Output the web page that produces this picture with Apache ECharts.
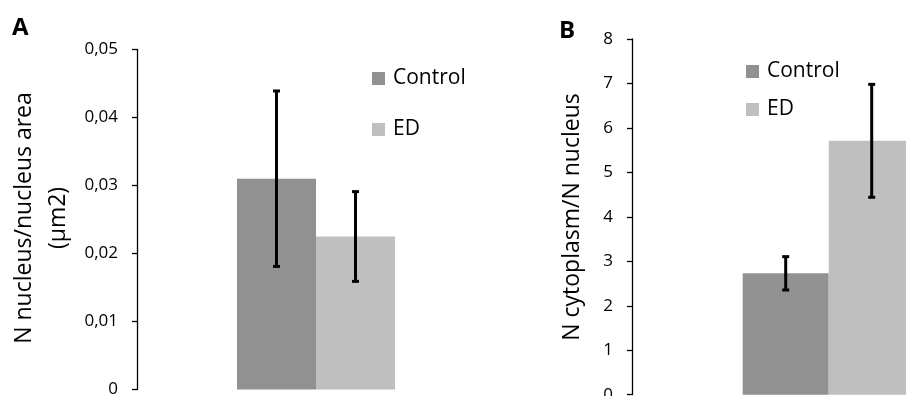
<!DOCTYPE html>
<html>
<head>
<meta charset="utf-8">
<script src="https://cdn.jsdelivr.net/npm/echarts@6/dist/echarts.min.js"></script>
<style>
html,body{margin:0;padding:0;background:#fff;overflow:hidden;width:906px;height:396px;}
#c{width:1030px;height:396px;}
</style>
</head>
<body>
<div id="c"></div>
<script>
// ---- data ----
const categories = [''];
const seriesNames = ['Control', 'ED'];
// Panel A: N nucleus / nucleus area (µm2)
const nucAreaControl = [0.031];
const nucAreaControlErr = [0.0129];
const nucAreaED = [0.0225];
const nucAreaEDErr = [0.0066];
// Panel B: N cytoplasm / N nucleus
const cytoNucControl = [2.73];
const cytoNucControlErr = [0.375];
const cytoNucED = [5.71];
const cytoNucEDErr = [1.27];
// axis ranges
const axisA = {min: 0, max: 0.05, interval: 0.01};
const axisB = {min: 0, max: 8, interval: 1};

const colControl = '#919191';
const colED = '#bfbfbf';
const FONT = 'Open Sans';

function errData(vals, errs) {
  return vals.map((v, i) => [i, v - errs[i], v + errs[i]]);
}
function errSeries(vals, errs, offset, gi) {
  return {
    type: 'custom',
    xAxisIndex: gi, yAxisIndex: gi,
    silent: true, z: 10,
    data: errData(vals, errs),
    encode: {x: 0, y: [1, 2]},
    renderItem: function (params, api) {
      const lo = api.coord([api.value(0), api.value(1)]);
      const hi = api.coord([api.value(0), api.value(2)]);
      const x = lo[0] + offset;
      const hw = 3.5;
      const st = {stroke: '#000', lineWidth: 3};
      return {
        type: 'group',
        children: [
          {type: 'line', shape: {x1: x, y1: lo[1], x2: x, y2: hi[1]}, style: st},
          {type: 'line', shape: {x1: x - hw, y1: hi[1], x2: x + hw, y2: hi[1]}, style: st},
          {type: 'line', shape: {x1: x - hw, y1: lo[1], x2: x + hw, y2: lo[1]}, style: st}
        ]
      };
    }
  };
}

const bwA = 79, bwB = 86;

function yAxis(gi, r, fmt) {
  return {
    type: 'value', gridIndex: gi,
    min: r.min, max: r.max, interval: r.interval,
    axisLine: {show: true, lineStyle: {color: '#000', width: 1.3}},
    axisTick: {show: true, length: 5, lineStyle: {color: '#000', width: 1.3}},
    splitLine: {show: false},
    axisLabel: {color: '#000', fontFamily: FONT, fontSize: 17, margin: 19, formatter: fmt}
  };
}
function xAxis(gi) {
  return {
    type: 'category', gridIndex: gi, data: categories,
    axisLine: {show: false}, axisTick: {show: false}, axisLabel: {show: false}
  };
}

const option = {
  animation: false,
  backgroundColor: '#fff',
  grid: [
    {left: 137, top: 49.5, width: 358, height: 340, containLabel: false, outerBoundsMode: 'none'},
    {left: 632, top: 39, width: 393.4, height: 355.7, containLabel: false, outerBoundsMode: 'none'}
  ],
  xAxis: [xAxis(0), xAxis(1)],
  yAxis: [
    yAxis(0, axisA, v => v === 0 ? '0' : v.toFixed(2).replace('.', ',')),
    yAxis(1, axisB, v => String(v))
  ],
  legend: [
    {
      orient: 'vertical', left: 367, top: 63, padding: 5,
      data: seriesNames, icon: 'rect', itemWidth: 13, itemHeight: 13, itemGap: 30,
      textStyle: {fontFamily: FONT, fontSize: 21, color: '#000', lineHeight: 20, padding: [0, 0, 0, 3]},
      selectedMode: false
    },
    {
      orient: 'vertical', left: 741, top: 56, padding: 5,
      data: seriesNames, icon: 'rect', itemWidth: 13, itemHeight: 13, itemGap: 17,
      textStyle: {fontFamily: FONT, fontSize: 21, color: '#000', lineHeight: 20, padding: [0, 0, 0, 3]},
      selectedMode: false
    }
  ],
  graphic: [
    {type: 'text', left: 12, top: 16, style: {text: 'A', font: 'bold 24px "Open Sans"', fill: '#000'}},
    {type: 'text', left: 559, top: 19, style: {text: 'B', font: 'bold 24px "Open Sans"', fill: '#000'}},
    {type: 'text', x: 24, y: 218, rotation: Math.PI / 2,
     style: {text: 'N nucleus/nucleus area', font: '23px "Open Sans"', fill: '#000', align: 'center', verticalAlign: 'middle'}},
    {type: 'text', x: 58, y: 218, rotation: Math.PI / 2,
     style: {text: '(μm2)', font: '23px "Open Sans"', fill: '#000', align: 'center', verticalAlign: 'middle'}},
    {type: 'text', x: 572, y: 217, rotation: Math.PI / 2,
     style: {text: 'N cytoplasm/N nucleus', font: '23px "Open Sans"', fill: '#000', align: 'center', verticalAlign: 'middle'}}
  ],
  series: [
    {name: 'Control', type: 'bar', xAxisIndex: 0, yAxisIndex: 0, data: nucAreaControl,
     barWidth: bwA, barGap: '0%', itemStyle: {color: colControl}},
    {name: 'ED', type: 'bar', xAxisIndex: 0, yAxisIndex: 0, data: nucAreaED,
     barWidth: bwA, barGap: '0%', itemStyle: {color: colED}},
    {name: 'Control', type: 'bar', xAxisIndex: 1, yAxisIndex: 1, data: cytoNucControl,
     barWidth: bwB, barGap: '0%', itemStyle: {color: colControl}},
    {name: 'ED', type: 'bar', xAxisIndex: 1, yAxisIndex: 1, data: cytoNucED,
     barWidth: bwB, barGap: '0%', itemStyle: {color: colED}},
    errSeries(nucAreaControl, nucAreaControlErr, -bwA / 2, 0),
    errSeries(nucAreaED, nucAreaEDErr, bwA / 2, 0),
    errSeries(cytoNucControl, cytoNucControlErr, -bwB / 2, 1),
    errSeries(cytoNucED, cytoNucEDErr, bwB / 2, 1)
  ]
};

const chart = echarts.init(document.getElementById('c'), null, {renderer: 'canvas'});
chart.setOption(option);
</script>
</body>
</html>
